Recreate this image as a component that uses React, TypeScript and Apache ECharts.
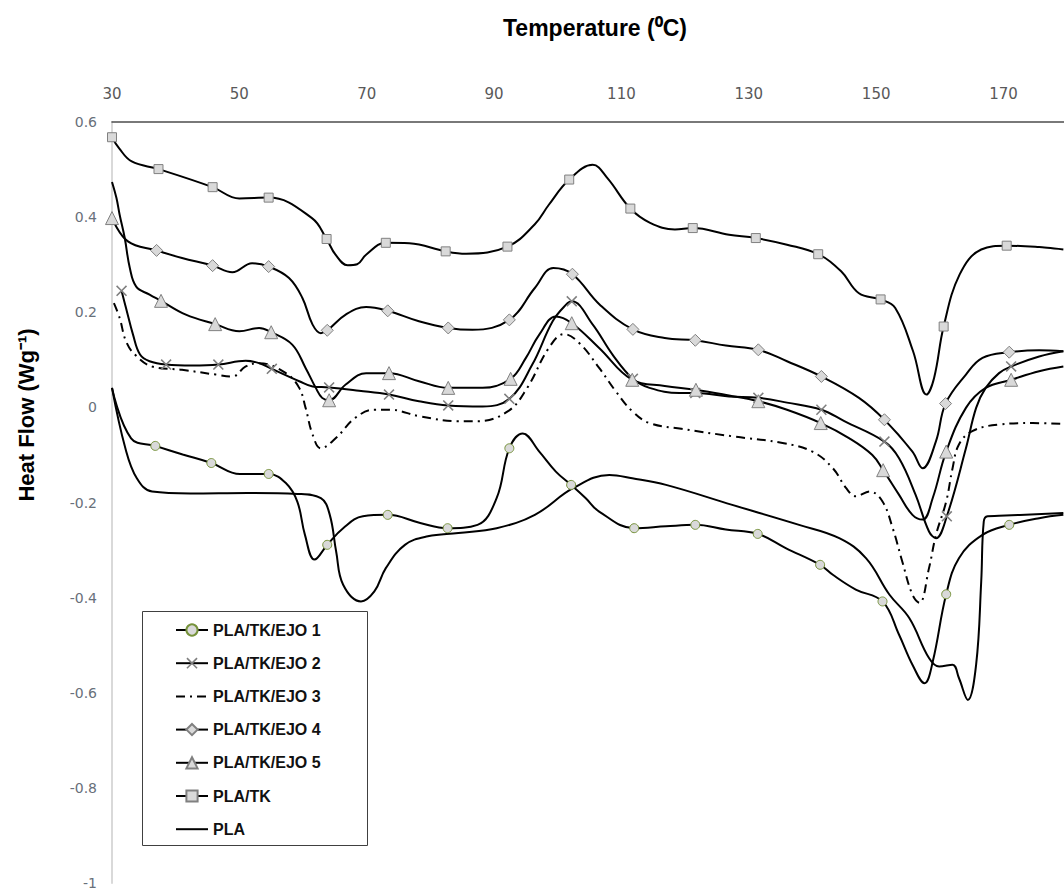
import React, { useEffect, useRef } from 'react';
import * as echarts from 'echarts';

// ---- Data (Temperature °C, Heat Flow W/g) ----
const seriesNames = ['PLA/TK/EJO 1', 'PLA/TK/EJO 2', 'PLA/TK/EJO 3', 'PLA/TK/EJO 4', 'PLA/TK/EJO 5', 'PLA/TK', 'PLA'];

const ejo1: number[][] = [
  [30, 0.041], [33.0, -0.065], [36.8, -0.081], [41.1, -0.099], [45.6, -0.117], [50.1, -0.140], [54.6, -0.140],
  [57.3, -0.159], [59.1, -0.198], [60.3, -0.268], [61.8, -0.320], [63.8, -0.289], [66.3, -0.254], [69.4, -0.229],
  [73.3, -0.226], [78.4, -0.243], [82.7, -0.254], [87.4, -0.247], [90.4, -0.191], [92.4, -0.086], [94.5, -0.055],
  [97.1, -0.093], [99.7, -0.135], [102.1, -0.163], [104.4, -0.191], [106.5, -0.219], [112.0, -0.254], [117.0, -0.250],
  [121.6, -0.247], [126.4, -0.257], [131.4, -0.266], [135.8, -0.296], [141.2, -0.331], [143.2, -0.352], [146.8, -0.383],
  [151.0, -0.408], [153.6, -0.478], [155.7, -0.541], [157.6, -0.580], [158.9, -0.534], [161.0, -0.393], [163.0, -0.317],
  [166.7, -0.268], [170.9, -0.247], [175.6, -0.233], [179.4, -0.226],
];
const ejo1Marks = [36.8, 45.6, 54.6, 63.8, 73.3, 82.7, 92.4, 102.1, 112.0, 121.6, 131.4, 141.2, 151.0, 161.0, 170.9];

const ejo2: number[][] = [
  [31.5, 0.245], [32.2, 0.209], [33.3, 0.153], [34.4, 0.111], [35.9, 0.097], [38.5, 0.090], [42.6, 0.088],
  [46.7, 0.090], [51.0, 0.098], [53.1, 0.093], [55.1, 0.081], [59.4, 0.055], [61.5, 0.044], [64.1, 0.042],
  [68.8, 0.035], [73.5, 0.027], [78.2, 0.013], [82.8, 0.004], [88.2, 0.002], [92.4, 0.018], [96.0, 0.090],
  [99.2, 0.181], [101.3, 0.216], [102.2, 0.223], [105.5, 0.174], [108.6, 0.111], [111.8, 0.060], [114.4, 0.041],
  [119.1, 0.030], [121.6, 0.030], [126.9, 0.023], [131.5, 0.020], [136.0, 0.010], [141.4, -0.005], [145.0, -0.029],
  [151.3, -0.072], [153.6, -0.107], [156.2, -0.184], [158.3, -0.261], [159.4, -0.275], [161.1, -0.229], [164.1, -0.086],
  [165.7, -0.001], [167.2, 0.041], [169.3, 0.072], [171.2, 0.086], [175.6, 0.107], [179.4, 0.118],
];
const ejo2Marks = [31.5, 38.5, 46.7, 55.1, 64.1, 73.5, 82.8, 92.4, 102.2, 111.8, 121.6, 131.5, 141.4, 151.3, 161.1, 171.2];

const ejo3: number[][] = [
  [30.3, 0.219], [31.2, 0.188], [32.2, 0.139], [33.6, 0.111], [36.3, 0.086], [41.0, 0.079], [46.3, 0.069],
  [48.9, 0.065], [51.0, 0.086], [53.1, 0.093], [57.3, 0.072], [59.4, 0.041], [60.4, -0.001], [61.5, -0.057],
  [62.8, -0.086], [65.2, -0.064], [68.2, -0.022], [71.2, -0.005], [73.6, -0.005], [78.4, -0.019], [84.4, -0.029],
  [87.4, -0.029], [92.2, -0.008], [95.2, 0.041], [98.6, 0.125], [101.0, 0.154], [103.4, 0.135], [106.5, 0.083],
  [109.1, 0.034], [111.7, -0.008], [114.4, -0.033], [119.4, -0.045], [127.5, -0.061], [135.3, -0.075], [140.0, -0.093],
  [143.2, -0.128], [145.3, -0.170], [146.8, -0.187], [149.0, -0.177], [151.0, -0.198], [152.6, -0.254], [154.1, -0.324],
  [155.7, -0.394], [156.8, -0.411], [158.3, -0.338], [159.4, -0.268], [161.0, -0.198], [162.0, -0.128], [163.0, -0.078],
  [165.1, -0.050], [169.3, -0.036], [174.6, -0.033], [179.4, -0.035],
];

const ejo4: number[][] = [
  [30, 0.398], [32.5, 0.349], [37.0, 0.330], [41.0, 0.314], [45.8, 0.298], [48.9, 0.284], [52.0, 0.303],
  [54.6, 0.296], [57.8, 0.272], [59.9, 0.230], [61.5, 0.174], [62.8, 0.156], [63.8, 0.162], [66.7, 0.195],
  [69.9, 0.211], [73.3, 0.203], [78.2, 0.181], [82.8, 0.167], [86.6, 0.163], [92.4, 0.184], [96.4, 0.251],
  [99.3, 0.293], [102.3, 0.280], [106.6, 0.216], [111.8, 0.164], [116.8, 0.146], [121.6, 0.141], [126.4, 0.130],
  [131.5, 0.121], [136.0, 0.097], [141.4, 0.065], [147.3, 0.020], [151.3, -0.026], [155.7, -0.093], [157.3, -0.128],
  [159.4, -0.071], [160.9, 0.008], [164.1, 0.069], [166.7, 0.104], [170.9, 0.116], [175.6, 0.120], [179.4, 0.118],
];
const ejo4Marks = [37.0, 45.8, 54.6, 63.8, 73.3, 82.8, 92.4, 102.3, 111.8, 121.6, 131.5, 141.4, 151.3, 160.9, 170.9];

const ejo5: number[][] = [
  [30, 0.474], [30.7, 0.440], [31.2, 0.405], [32.0, 0.356], [32.8, 0.293], [33.8, 0.254], [35.9, 0.237],
  [37.7, 0.224], [41.6, 0.195], [46.2, 0.175], [50.0, 0.160], [53.1, 0.167], [55.0, 0.158], [58.3, 0.132],
  [60.4, 0.083], [62.0, 0.041], [63.0, 0.020], [64.1, 0.015], [66.7, 0.048], [69.9, 0.072], [73.5, 0.072],
  [78.2, 0.055], [82.8, 0.041], [88.2, 0.041], [92.6, 0.060], [95.0, 0.104], [97.1, 0.153], [99.7, 0.191],
  [102.2, 0.177], [106.5, 0.125], [111.7, 0.058], [116.8, 0.045], [121.7, 0.037], [126.9, 0.025], [131.5, 0.013],
  [136.0, -0.005], [141.3, -0.033], [145.8, -0.065], [149.4, -0.100], [151.1, -0.132], [153.6, -0.184], [155.7, -0.226],
  [157.3, -0.236], [158.9, -0.190], [161.0, -0.093], [164.1, -0.001], [167.2, 0.041], [171.2, 0.058], [175.6, 0.076],
  [179.4, 0.086],
];
const ejo5Marks = [37.7, 46.2, 55.0, 64.1, 73.5, 82.8, 92.6, 102.2, 111.7, 121.7, 131.5, 141.3, 151.1, 161.0, 171.2];

const plaTk: number[][] = [
  [30, 0.568], [31.1, 0.545], [33.1, 0.517], [37.3, 0.501], [45.8, 0.463], [50.0, 0.439], [54.6, 0.441],
  [61.4, 0.398], [63.7, 0.354], [65.1, 0.321], [67.0, 0.299], [68.5, 0.301], [69.9, 0.321], [73.0, 0.346],
  [76.7, 0.345], [82.4, 0.328], [85.6, 0.323], [92.1, 0.338], [96.4, 0.385], [98.6, 0.426], [101.8, 0.479],
  [105.5, 0.510], [107.8, 0.482], [111.4, 0.418], [114.5, 0.388], [118.4, 0.374], [121.2, 0.377], [126.9, 0.363],
  [131.1, 0.356], [136.0, 0.342], [140.9, 0.322], [144.5, 0.286], [147.3, 0.240], [150.7, 0.227], [153.0, 0.209],
  [155.8, 0.118], [157.9, 0.027], [159.1, 0.062], [160.6, 0.170], [163.1, 0.279], [166.5, 0.332], [170.5, 0.340],
  [175.6, 0.337], [179.4, 0.332],
];
const plaTkMarks = [30, 37.3, 45.8, 54.6, 63.7, 73.0, 82.4, 92.1, 101.8, 111.4, 121.2, 131.1, 140.9, 150.7, 160.6, 170.5];

const pla: number[][] = [
  [30, 0.041], [32.1, -0.086], [33.9, -0.149], [36.3, -0.177], [42.3, -0.181], [51.3, -0.180], [59.1, -0.182],
  [62.8, -0.191], [64.2, -0.226], [65.2, -0.303], [66.3, -0.373], [69.1, -0.408], [71.2, -0.387], [73.0, -0.338],
  [76.0, -0.289], [79.6, -0.271], [84.4, -0.264], [90.4, -0.254], [96.4, -0.226], [102.4, -0.170], [108.1, -0.142],
  [111.7, -0.149], [117.0, -0.163], [127.4, -0.205], [137.9, -0.247], [144.2, -0.275], [148.4, -0.317], [152.1, -0.394],
  [155.2, -0.443], [158.3, -0.527], [159.9, -0.545], [162.0, -0.541], [163.0, -0.569], [164.4, -0.615], [165.7, -0.541],
  [166.5, -0.366], [166.9, -0.240], [167.5, -0.229], [169.3, -0.228], [179.4, -0.222],
];

const X_SYMBOL = 'path://M1,0 L5,4 L9,0 L10,1 L6,5 L10,9 L9,10 L5,6 L1,10 L0,9 L4,5 L0,1 Z';

const markerFill = '#d9d9d9';
const markerEdge = '#808080';

function withMarks(data: number[][], marks: number[]) {
  return data.map(([t, v]) => (marks.includes(t) ? [t, v] : { value: [t, v], symbol: 'none' }));
}

export default function App() {
  const ref = useRef<HTMLDivElement>(null);

  useEffect(() => {
    if (!ref.current) return;
    const chart = echarts.init(ref.current, undefined, { renderer: 'svg' });

    const base = {
      type: 'line',
      smooth: 0.4,
      showAllSymbol: true,
      clip: false,
      silent: true,
      lineStyle: { color: '#000', width: 2 },
    };

    const ejo4Data: any[] = withMarks(ejo4, ejo4Marks);
    ejo4Data[0] = {
      value: ejo4[0],
      symbol: 'triangle',
      symbolSize: 13,
      itemStyle: { color: markerFill, borderColor: markerEdge, borderWidth: 1 },
    };

    const option: any = {
      animation: false,
      grid: { left: 112, right: 0, top: 122, bottom: 8 },
      xAxis: {
        type: 'value',
        position: 'top',
        min: 30,
        max: 179.5,
        interval: 20,
        axisLine: { show: true, onZero: false, lineStyle: { color: '#4d4d4d', width: 1.5 } },
        axisTick: { show: false },
        splitLine: { show: false },
        axisLabel: { showMaxLabel: false, margin: 21, color: '#595959', fontSize: 15, fontFamily: 'DejaVu Sans' },
      },
      yAxis: {
        type: 'value',
        min: -1,
        max: 0.6,
        interval: 0.2,
        axisLine: { show: true, onZero: false, lineStyle: { color: '#d9d9d9', width: 2 } },
        axisTick: { show: false },
        splitLine: { show: false },
        axisLabel: { margin: 15, color: '#68707a', fontSize: 14, fontFamily: 'DejaVu Sans' },
      },
      legend: {
        orient: 'vertical',
        left: 175,
        top: 622,
        padding: 0,
        itemWidth: 32,
        itemHeight: 14,
        itemGap: 17.2,
        selectedMode: false,
        z: 10,
        textStyle: { fontFamily: 'Liberation Sans', fontWeight: 'bold', fontSize: 16, color: '#111' },
        data: [
          { name: seriesNames[0] },
          { name: seriesNames[1] },
          { name: seriesNames[2], itemStyle: { opacity: 0 } },
          { name: seriesNames[3] },
          { name: seriesNames[4] },
          { name: seriesNames[5] },
          { name: seriesNames[6], itemStyle: { opacity: 0 } },
        ],
      },
      graphic: [
        {
          type: 'rect',
          z: 5,
          shape: { x: 142.5, y: 611.5, width: 225, height: 234 },
          style: { fill: '#fff', stroke: '#404040', lineWidth: 1 },
        },
        {
          type: 'text',
          x: 595,
          y: 28,
          style: {
            text: 'Temperature (⁰C)',
            font: 'bold 23px "Liberation Sans"',
            fill: '#000',
            textAlign: 'center',
            textVerticalAlign: 'middle',
          },
        },
        {
          type: 'text',
          x: 26,
          y: 415,
          rotation: Math.PI / 2,
          style: {
            text: 'Heat Flow (Wg⁻¹)',
            font: 'bold 22px "Liberation Sans"',
            fill: '#000',
            textAlign: 'center',
            textVerticalAlign: 'middle',
          },
        },
      ],
      series: [
        {
          ...base,
          name: seriesNames[0],
          symbol: 'circle',
          symbolSize: 9,
          itemStyle: { color: markerFill, borderColor: '#77933c', borderWidth: 1 },
          data: withMarks(ejo1, ejo1Marks),
        },
        {
          ...base,
          name: seriesNames[1],
          symbol: X_SYMBOL,
          symbolSize: 11,
          itemStyle: { color: '#7f7f7f', borderWidth: 0 },
          data: withMarks(ejo2, ejo2Marks),
        },
        {
          ...base,
          name: seriesNames[2],
          symbol: 'none',
          itemStyle: { color: '#000' },
          lineStyle: { color: '#000', width: 2, type: [9, 5, 2, 5] },
          data: ejo3,
        },
        {
          ...base,
          name: seriesNames[3],
          symbol: 'diamond',
          symbolSize: 12,
          itemStyle: { color: markerFill, borderColor: markerEdge, borderWidth: 1 },
          data: ejo4Data,
        },
        {
          ...base,
          name: seriesNames[4],
          symbol: 'triangle',
          symbolSize: 13,
          itemStyle: { color: markerFill, borderColor: markerEdge, borderWidth: 1 },
          data: withMarks(ejo5, ejo5Marks),
        },
        {
          ...base,
          name: seriesNames[5],
          symbol: 'rect',
          symbolSize: 9,
          itemStyle: { color: markerFill, borderColor: markerEdge, borderWidth: 1 },
          data: withMarks(plaTk, plaTkMarks),
        },
        {
          ...base,
          name: seriesNames[6],
          symbol: 'none',
          itemStyle: { color: '#000' },
          data: pla,
        },
      ],
    };

    chart.setOption(option);
    return () => chart.dispose();
  }, []);

  return (
    <div
      ref={ref}
      style={{ position: 'fixed', left: 0, top: 0, width: 1064, height: 891, background: '#fff' }}
    />
  );
}
